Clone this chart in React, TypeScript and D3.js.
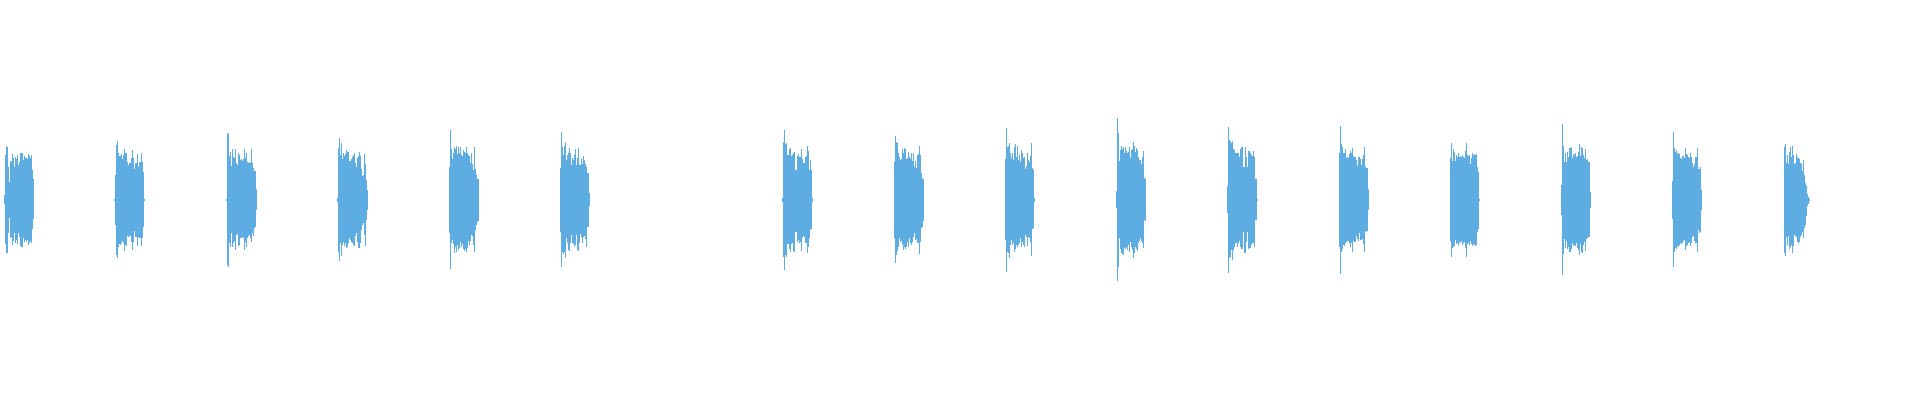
import { useEffect, useRef } from 'react';
import * as d3 from 'd3';

// first frame of each burst (one frame = one column of the waveform)
const burstStarts = [4, 114, 226, 337, 449, 560, 782, 894, 1005, 1116, 1227, 1339, 1450, 1561, 1672, 1784];

// peak (positive) amplitude per frame, read burst by burst
const upperPeaks: number[][] = [
  [5, 45, 54, 53, 33, 18, 39, 38, 46, 42, 33, 43, 41, 45, 35, 38, 47, 47, 47, 40, 44, 42, 42, 41, 46, 44, 42, 45, 30, 21],
  [1, 25, 55, 59, 47, 44, 44, 46, 41, 45, 51, 47, 47, 38, 35, 37, 37, 42, 50, 42, 31, 37, 37, 46, 33, 38, 38, 47, 38, 28, 1],
  [1, 66, 67, 44, 48, 34, 51, 43, 42, 51, 37, 35, 47, 45, 40, 41, 39, 41, 51, 42, 47, 38, 37, 38, 37, 51, 37, 32, 29, 29, 11],
  [2, 52, 62, 45, 57, 41, 47, 44, 46, 50, 48, 48, 39, 39, 41, 43, 45, 47, 37, 33, 42, 44, 48, 44, 31, 24, 25, 46, 36, 20, 10],
  [33, 70, 51, 41, 47, 53, 51, 54, 46, 53, 47, 53, 45, 44, 50, 48, 47, 53, 47, 45, 44, 37, 47, 36, 30, 53, 31, 25, 21, 21],
  [32, 68, 53, 45, 54, 58, 40, 45, 47, 52, 47, 35, 42, 40, 45, 51, 35, 42, 52, 35, 35, 42, 36, 44, 40, 36, 33, 27, 27, 7],
  [2, 58, 70, 56, 57, 45, 45, 51, 52, 44, 45, 47, 48, 30, 30, 44, 46, 43, 43, 51, 41, 37, 37, 43, 44, 54, 49, 30, 40, 30, 2],
  [38, 64, 58, 57, 47, 43, 40, 41, 51, 47, 52, 51, 41, 42, 48, 43, 41, 47, 39, 47, 33, 39, 32, 45, 46, 54, 45, 27, 21, 21],
  [41, 72, 53, 54, 57, 47, 42, 47, 40, 53, 56, 43, 54, 40, 45, 38, 50, 47, 42, 43, 31, 34, 47, 40, 38, 44, 57, 32, 30, 2],
  [9, 82, 67, 39, 50, 54, 51, 53, 47, 53, 49, 47, 48, 53, 42, 50, 51, 58, 54, 48, 52, 50, 43, 40, 40, 36, 43, 49, 22, 21],
  [14, 73, 60, 59, 57, 59, 51, 50, 47, 47, 47, 47, 43, 51, 53, 53, 33, 33, 53, 43, 33, 49, 49, 47, 45, 44, 49, 43, 21, 21, 1],
  [47, 74, 56, 53, 47, 47, 51, 42, 43, 42, 46, 49, 47, 52, 44, 43, 43, 40, 34, 43, 43, 41, 35, 41, 45, 53, 33, 32, 32, 11],
  [42, 57, 39, 51, 48, 39, 45, 43, 47, 43, 44, 43, 45, 43, 42, 49, 57, 45, 44, 45, 36, 42, 47, 45, 46, 45, 46, 33, 28, 1],
  [15, 76, 54, 38, 47, 38, 48, 43, 52, 52, 53, 42, 46, 45, 47, 43, 44, 48, 56, 44, 53, 52, 45, 42, 51, 40, 41, 38, 38, 8],
  [19, 68, 52, 48, 50, 46, 47, 46, 42, 41, 44, 44, 42, 52, 46, 45, 43, 42, 47, 43, 37, 33, 36, 43, 43, 52, 31, 31, 33, 10],
  [53, 56, 37, 45, 36, 48, 53, 43, 54, 45, 36, 37, 46, 43, 42, 41, 37, 36, 29, 40, 25, 17, 14, 6, 3, 1],
];

// trough (negative) amplitude per frame, stored as magnitudes
const lowerPeaks: number[][] = [
  [4, 44, 53, 53, 33, 18, 38, 37, 45, 41, 33, 43, 40, 44, 33, 37, 46, 47, 47, 38, 42, 40, 42, 40, 45, 43, 41, 43, 29, 19],
  [1, 25, 55, 58, 47, 44, 45, 43, 41, 43, 51, 45, 46, 36, 37, 36, 36, 42, 50, 42, 31, 37, 37, 46, 37, 38, 38, 46, 38, 27, 1],
  [1, 65, 67, 43, 47, 33, 47, 43, 41, 50, 35, 34, 46, 45, 38, 38, 37, 38, 50, 42, 47, 38, 36, 35, 38, 42, 33, 36, 28, 27, 10],
  [2, 52, 61, 43, 56, 45, 42, 46, 43, 48, 47, 43, 38, 40, 42, 43, 45, 46, 36, 33, 42, 48, 48, 43, 30, 25, 23, 35, 46, 20, 10],
  [33, 69, 43, 40, 44, 53, 47, 52, 45, 50, 48, 42, 47, 44, 49, 51, 49, 52, 48, 41, 45, 41, 35, 36, 45, 52, 30, 25, 22, 21],
  [32, 67, 52, 54, 52, 58, 38, 43, 50, 51, 43, 35, 43, 44, 47, 45, 35, 50, 51, 43, 34, 37, 43, 37, 36, 39, 47, 27, 27, 6],
  [2, 57, 70, 55, 57, 44, 44, 49, 52, 44, 43, 51, 52, 32, 32, 42, 40, 43, 42, 51, 38, 36, 37, 43, 43, 53, 47, 38, 30, 29, 2],
  [38, 63, 55, 51, 47, 38, 42, 41, 44, 50, 47, 49, 47, 42, 47, 38, 43, 45, 42, 37, 33, 40, 39, 43, 43, 54, 42, 28, 27, 21],
  [40, 72, 52, 53, 58, 45, 40, 45, 43, 52, 49, 45, 47, 45, 43, 38, 47, 42, 45, 47, 35, 37, 46, 37, 38, 42, 56, 29, 28, 2],
  [8, 81, 67, 38, 49, 53, 54, 55, 48, 49, 47, 50, 45, 52, 42, 47, 50, 58, 53, 47, 49, 51, 43, 41, 38, 41, 43, 48, 20, 21],
  [13, 73, 58, 57, 50, 60, 50, 47, 43, 43, 47, 43, 41, 47, 49, 49, 32, 53, 53, 42, 32, 49, 48, 48, 45, 43, 43, 47, 20, 20, 1],
  [47, 74, 52, 49, 45, 46, 43, 42, 41, 41, 43, 47, 43, 52, 41, 42, 42, 36, 39, 41, 33, 40, 40, 39, 44, 52, 31, 32, 31, 10],
  [41, 57, 48, 47, 46, 40, 44, 43, 46, 42, 43, 41, 45, 43, 42, 48, 57, 44, 43, 45, 41, 44, 46, 44, 45, 46, 45, 32, 29, 1],
  [15, 75, 54, 39, 48, 41, 49, 47, 52, 52, 49, 43, 46, 45, 46, 43, 48, 50, 55, 44, 52, 53, 45, 42, 51, 39, 38, 37, 37, 8],
  [19, 67, 52, 48, 49, 46, 47, 45, 43, 44, 43, 41, 40, 50, 46, 45, 43, 42, 46, 43, 37, 36, 41, 43, 43, 52, 30, 33, 32, 10],
  [53, 56, 37, 45, 36, 49, 47, 45, 53, 46, 35, 36, 37, 42, 43, 42, 37, 35, 32, 38, 28, 25, 16, 6, 4, 1],
];

const totalFrames = 1920;
const amplitudeRange = 200;

export default function App() {
  const svgRef = useRef<SVGSVGElement>(null);

  useEffect(() => {
    if (!svgRef.current) return;

    const width = 1920;
    const height = 400;

    const svg = d3.select(svgRef.current);
    svg.selectAll('*').remove();
    svg.attr('width', width).attr('height', height);

    const xScale = d3.scaleLinear()
      .domain([0, totalFrames])
      .range([0, width]);

    const yScale = d3.scaleLinear()
      .domain([-amplitudeRange, amplitudeRange])
      .range([height, 0]);

    // flatten bursts into per-frame columns
    const columns = burstStarts.flatMap((start, b) =>
      upperPeaks[b].map((up, i) => ({
        frame: start + i,
        hi: up,
        lo: -lowerPeaks[b][i]
      }))
    );

    svg.append('g')
      .attr('shape-rendering', 'crispEdges')
      .selectAll('rect')
      .data(columns)
      .enter()
      .append('rect')
      .attr('x', d => xScale(d.frame))
      .attr('width', d => xScale(d.frame + 1) - xScale(d.frame))
      .attr('y', d => yScale(d.hi))
      .attr('height', d => yScale(d.lo) - yScale(d.hi))
      .attr('fill', '#5dade2');
  }, []);

  return (
    <div style={{ position: 'fixed', left: 0, top: 0, width: 1920, height: 400, background: '#ffffff' }}>
      <svg ref={svgRef} style={{ display: 'block' }} />
    </div>
  );
}
